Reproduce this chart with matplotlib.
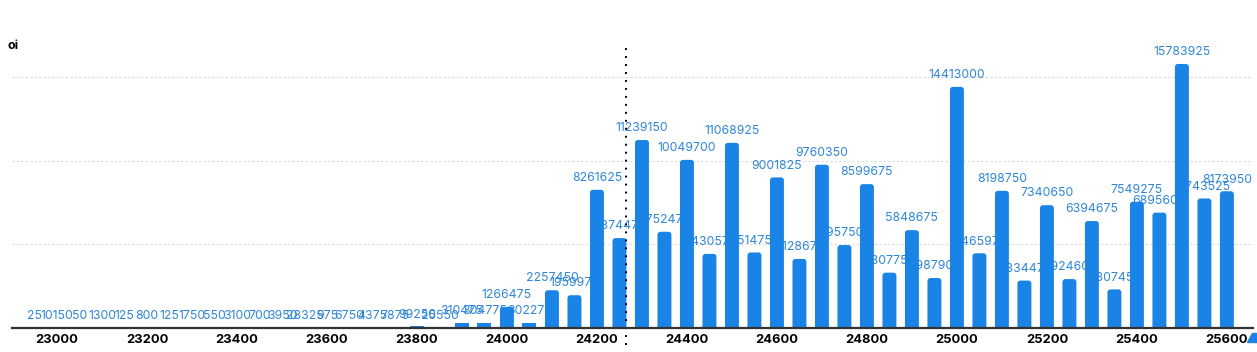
#!/usr/bin/env python3
"""Open interest by strike, bar chart with value labels."""
import matplotlib
matplotlib.use("Agg")
import matplotlib.pyplot as plt
from matplotlib.patches import FancyBboxPatch, Polygon

STRIKES = [
    22950, 23000, 23050, 23100, 23150, 23200, 23250, 23300, 23350, 23400,
    23450, 23500, 23550, 23600, 23650, 23700, 23750, 23800, 23850, 23900,
    23950, 24000, 24050, 24100, 24150, 24200, 24250, 24300, 24350, 24400,
    24450, 24500, 24550, 24600, 24650, 24700, 24750, 24800, 24850, 24900,
    24950, 25000, 25050, 25100, 25150, 25200, 25250, 25300, 25350, 25400,
    25450, 25500, 25550, 25600,
]
OI = [
    25, 10150, 50, 1300, 125, 800, 125, 1750, 550, 3100,
    700, 3950, 28325, 975, 6750, 4375, 7875, 99250, 25550, 310475,
    304775, 1266475, 302275, 2257450, 1959975, 8261625, 5374475, 11239150, 5752475, 10049700,
    4430575, 11068925, 4514750, 9001825, 4128675, 9760350, 4957500, 8599675, 3307750, 5848675,
    2987900, 14413000, 4465975, 8198750, 2834475, 7340650, 2924600, 6394675, 2307450, 7549275,
    6895600, 15783925, 7743525, 8173950,
]
XTICKS = [23000, 23200, 23400, 23600, 23800, 24000, 24200, 24400, 24600, 24800,
          25000, 25200, 25400, 25600]
SPOT = 24265
GRID_Y = [5e6, 10e6, 15e6]

BAR_COLOR = "#1a83e6"
LABEL_COLOR = "#2f86d6"

W, H = 1257, 352
fig = plt.figure(figsize=(W / 100, H / 100), dpi=100)
ax = fig.add_axes([12 / W, 24 / H, (1253 - 12) / W, (328 - 58) / H])
ax.set_xlim(22900, 25658)
ax.set_ylim(0, 16.14e6)

bars = ax.bar(STRIKES, OI, width=31, color=BAR_COLOR, zorder=3)

# rounded bar tops: radius ~3 px expressed in data units of each axis
rx = 6.5
ry = 3.0 * 16.14e6 / 270
for rect in bars:
    h = rect.get_height()
    if h < 2.5 * ry:
        continue
    rect.set_visible(False)
    ax.add_patch(FancyBboxPatch(
        (rect.get_x(), -ry), rect.get_width(), h + ry,
        boxstyle=f"round,pad=0,rounding_size={rx}", mutation_aspect=ry / rx,
        facecolor=BAR_COLOR, edgecolor="none", zorder=3))

for x, v in zip(STRIKES, OI):
    ax.annotate(str(v), (x, v), xytext=(0, 6.3), textcoords="offset points",
                ha="center", va="baseline", fontsize=8.8, color=LABEL_COLOR,
                family="Inter", zorder=2)

for g in GRID_Y:
    ax.axhline(g, color="#d9d9d9", lw=0.8, ls=(0, (2, 2)), zorder=0)

ax.axvline(SPOT, ymin=-0.063, ymax=1.045, color="black", lw=1.4,
           ls=(0, (1, 3.1)), clip_on=False, zorder=4)

for s in ["top", "right", "left"]:
    ax.spines[s].set_visible(False)
ax.spines["bottom"].set_color("#333333")
ax.spines["bottom"].set_linewidth(1.6)
ax.spines["bottom"].set_zorder(5)
ax.set_yticks([])
ax.set_xticks(XTICKS)
ax.set_xticklabels([str(t) for t in XTICKS], fontsize=9.3, fontweight="bold",
                   family="Inter", color="black")
ax.tick_params(axis="x", length=0, pad=4)

fig.text(8 / W, 1 - 46 / H, "oi", fontsize=9, fontweight="bold", family="Inter",
         va="center", ha="left")

# small blue handle at the bottom-right corner
fig.patches.append(Polygon([[1247 / W, 1 - 342 / H], [1257 / W, 1 - 342 / H],
                            [1257 / W, 1 - 333 / H], [1252 / W, 1 - 333 / H]],
                           closed=True, transform=fig.transFigure,
                           color=BAR_COLOR))

fig.savefig("out.png", dpi=100)
